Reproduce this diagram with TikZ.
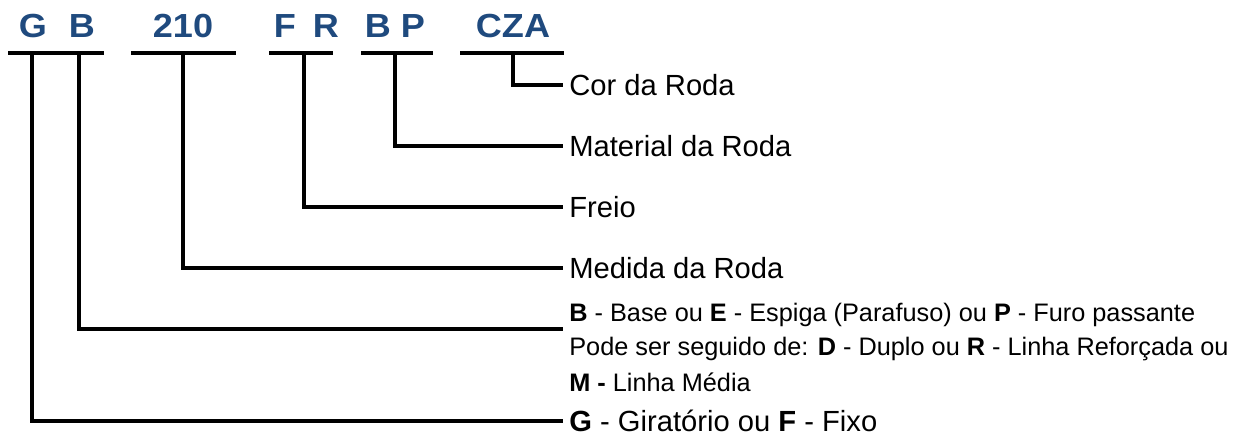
\documentclass[tikz,border=0pt]{standalone}
\usepackage{fontspec}
\setsansfont{Liberation Sans}
\usepackage{xcolor}
\usepackage{graphicx}
\usepackage{tikz}
\usetikzlibrary{positioning, calc}
\definecolor{codeblue}{HTML}{1F4A7E}
\newcommand{\wide}[1]{\scalebox{1.08}[1]{#1}}
\tikzset{
  codetxt/.style={anchor=base, inner sep=0pt, text=codeblue, font=\sffamily\bfseries\fontsize{19}{22}\selectfont},
  bar/.style={line width=1.9pt, black},
  lead/.style={line width=1.9pt, black},
  meaning/.style={anchor=west, inner xsep=0.12cm, inner ysep=0pt, text height=11.9pt, text depth=0pt, font=\sffamily\fontsize{16.6}{20}\selectfont},
  meaningsmall/.style={anchor=base west, inner xsep=0.12cm, inner ysep=0pt, font=\sffamily\fontsize{14.4}{17}\selectfont}
}

\begin{document}
\begin{tikzpicture}[x=0.02cm, y=-0.02cm]
\useasboundingbox (0,0) rectangle (1260,435);

% ===== CODE LETTERS =====
\node[codetxt] (cG)   at (33,38)  {\wide{G}};
\node[codetxt] (cB)   at (82,38)  {\wide{B}};
\node[codetxt] (c210) at (183,38) {\wide{210}};
\node[codetxt] (cF)   at (285,38) {\wide{F}};
\node[codetxt] (cR)   at (326,38) {\wide{R}};
\node[codetxt] (cB2)  at (378,38) {\wide{B}};
\node[codetxt] (cP)   at (413,38) {\wide{P}};
\node[codetxt] (cCZA) at (513,38) {\wide{CZA}};

% ===== UNDERLINE BARS =====
\draw[bar] (8,53)   -- (104,53);
\draw[bar] (131,53) -- (236,53);
\draw[bar] (269,53) -- (333,53);
\draw[bar] (361,53) -- (433,53);
\draw[bar] (460,53) -- (564,53);

% ===== JOINTS ON BARS =====
\coordinate (jG)   at (32,53);
\coordinate (jB)   at (79,53);
\coordinate (j210) at (183,53);
\coordinate (jFR)  at (304,53);
\coordinate (jBP)  at (395,53);
\coordinate (jCZA) at (513,53);

% ===== MEANINGS =====
\node[meaning] (mCZA) at (563,85)  {Cor da Roda};
\node[meaning] (mBP)  at (563,146) {Material da Roda};
\node[meaning] (mFR)  at (563,207) {Freio};
\node[meaning] (m210) at (563,268) {Medida da Roda};
\node[meaningsmall] (mB1) at (563,321) {\textbf{B} - Base ou \textbf{E} - Espiga (Parafuso) ou \textbf{P} - Furo passante};
\node[meaningsmall] (mB2) at (563,356) {Pode ser seguido de: \textbf{D} - Duplo ou \textbf{R} - Linha Reforçada ou};
\node[meaningsmall] (mB3) at (563,391) {\textbf{M -} Linha Média};
\coordinate (eB) at (563,329);
\node[meaning] (mG)   at (563,421) {\textbf{G} - Giratório ou \textbf{F} - Fixo};

% ===== LEADERS =====
\draw[lead] (jCZA) |- (mCZA);
\draw[lead] (jBP)  |- (mBP);
\draw[lead] (jFR)  |- (mFR);
\draw[lead] (j210) |- (m210);
\draw[lead] (jB)   |- (eB);
\draw[lead] (jG)   |- (mG);

\end{tikzpicture}
\end{document}
